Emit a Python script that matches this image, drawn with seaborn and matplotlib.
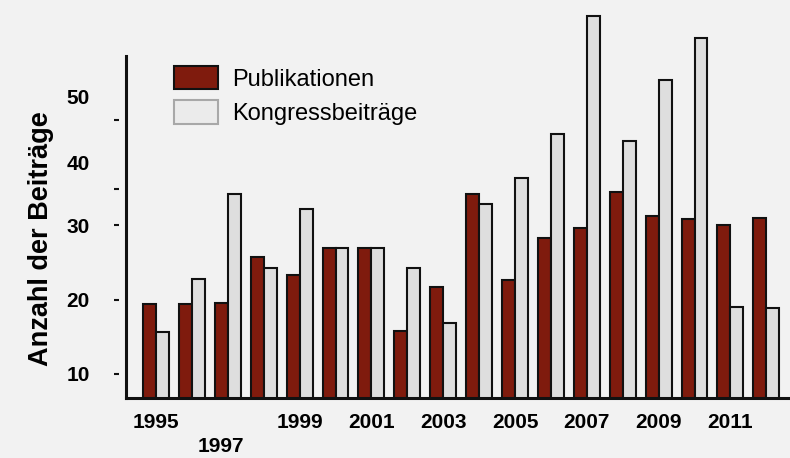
import pandas as pd
import matplotlib
matplotlib.use('Agg')
import matplotlib.pyplot as plt
import matplotlib.transforms as mtransforms
from matplotlib.patches import Patch
import seaborn as sns

sns.set_style('white')
plt.rcParams['font.family'] = ['Liberation Sans', 'DejaVu Sans']
plt.rcParams['text.color'] = 'black'
plt.rcParams['xtick.color'] = 'black'
plt.rcParams['ytick.color'] = 'black'

years = list(range(1995, 2013))
publikationen = [19.4, 19.4, 19.5, 25.8, 23.3, 26.9, 26.9, 15.8, 21.7,
                 34.2, 22.6, 28.3, 29.6, 34.5, 31.2, 30.9, 30.0, 31.0]
kongress = [15.7, 22.8, 34.2, 24.3, 32.2, 26.9, 26.9, 24.3, 16.8,
            32.8, 36.4, 42.3, 58.2, 41.4, 49.5, 55.2, 19.0, 18.9]
ytick_labels = ['10', '20', '30', '40', '50']
ytick_label_pos = [10, 20, 30, 38.4, 47.3]
ytick_marks = [10, 20, 30, 34.9, 44.1]
xtick_years = [1995, 1997, 1999, 2001, 2003, 2005, 2007, 2009, 2011]

series = ['Publikationen', 'Kongressbeiträge']
dark_red = '#7f1b0d'
light_grey = '#dedede'
bg = '#f2f2f2'

df = pd.DataFrame({
    'Jahr': years * 2,
    'Anzahl': publikationen + kongress,
    'Art': [series[0]] * len(years) + [series[1]] * len(years),
})

fig = plt.figure(figsize=(7.9, 4.58), dpi=100, facecolor=bg)
ax = fig.add_axes([126 / 790, 60 / 458, 664 / 790, 398 / 458])
ax.set_facecolor(bg)

sns.barplot(data=df, x='Jahr', y='Anzahl', hue='Art', hue_order=series,
            palette={series[0]: dark_red, series[1]: light_grey},
            width=0.72, edgecolor='#111111', linewidth=1.5, saturation=1,
            ax=ax, legend=False)

ax.set_xlim(-0.836, 17.66)
ax.set_ylim(6.77, 60.3)

for side in ['top', 'right']:
    ax.spines[side].set_visible(False)
ax.spines['left'].set_bounds(6.77, 52.8)
for side in ['left', 'bottom']:
    ax.spines[side].set_linewidth(2.2)
    ax.spines[side].set_color('#111111')

# y labels (offset from the tick dashes as in the original)
ax.set_yticks(ytick_label_pos)
ax.set_yticklabels(ytick_labels, fontsize=15, fontweight='bold')
ax.tick_params(axis='y', length=0, pad=26)

# detached tick dashes
sec = ax.secondary_yaxis(-7 / 664)
for s in sec.spines.values():
    s.set_visible(False)
sec.set_yticks(ytick_marks)
sec.tick_params(axis='y', length=3.6, width=1.5, color='#111111',
                labelleft=False)

xpos = [years.index(y) for y in xtick_years]
ax.set_xticks(xpos)
ax.set_xticklabels([str(y) for y in xtick_years], fontsize=15,
                   fontweight='bold')
ax.tick_params(axis='x', length=0, pad=11)
shift = mtransforms.ScaledTranslation(-7 / 100, -24 / 100, fig.dpi_scale_trans)
lbl = ax.get_xticklabels()[1]
lbl.set_transform(lbl.get_transform() + shift)

ax.set_xlabel('')
ax.set_ylabel('')
fig.text(41 / 790, 1 - 239 / 458, 'Anzahl der Beiträge', rotation=90,
         ha='center', va='center', fontsize=19.5, fontweight='bold')

handles = [Patch(facecolor=dark_red, edgecolor='#111111', linewidth=1.5),
           Patch(facecolor='#ebebeb', edgecolor='#a8a8a8', linewidth=1.5)]
fig.legend(handles, series, loc='upper left',
           bbox_to_anchor=(174 / 790, 1 - 66 / 458),
           bbox_transform=fig.transFigure, frameon=False, fontsize=17,
           handlelength=1.85, handleheight=1.15, handletextpad=0.6,
           labelspacing=0.4, borderpad=0, borderaxespad=0)

fig.savefig('out.png', dpi=100, facecolor=bg)
